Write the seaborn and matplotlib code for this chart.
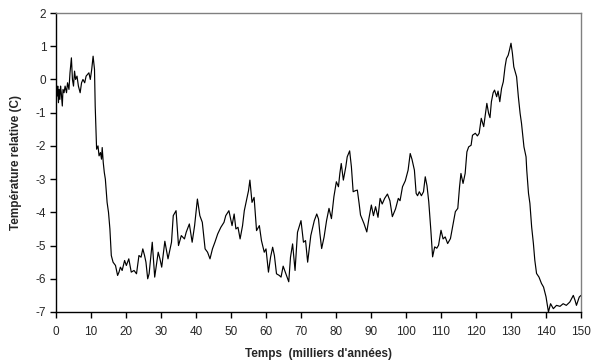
import matplotlib
matplotlib.use("Agg")
import matplotlib.pyplot as plt
import seaborn as sns
import pandas as pd

temps = [0.0, 0.3, 0.5, 0.7, 0.9, 1.1, 1.3, 1.5, 1.8, 2.0, 2.3, 2.6, 3.0, 3.3, 3.7, 4.0, 4.4, 4.7, 5.0, 5.3,
         5.6, 6.0, 6.4, 6.9, 7.3, 7.7, 8.2, 8.6, 9.0, 9.4, 9.8, 10.2, 10.6, 11.0, 11.2, 11.6, 12.0, 12.3, 12.7, 13.0,
         13.2, 13.5, 13.8, 14.1, 14.6, 15.0, 15.4, 15.8, 16.3, 17.0, 17.6, 18.0, 18.4, 18.9, 19.6, 20.1, 20.8, 21.5, 22.3, 23.0,
         23.7, 24.3, 24.8, 25.3, 25.7, 26.2, 26.6, 27.5, 28.2, 29.2, 29.7, 30.2, 31.1, 32.0, 33.0, 33.5, 34.3, 35.0, 35.8, 36.7,
         37.2, 38.1, 38.9, 39.6, 40.4, 41.1, 41.8, 42.6, 43.3, 44.0, 44.7, 45.4, 46.2, 47.1, 48.0, 48.5, 49.4, 50.3, 50.9, 51.4,
         52.0, 52.6, 53.3, 53.8, 54.5, 55.0, 55.4, 56.0, 56.6, 57.3, 58.1, 58.7, 59.5, 60.0, 60.7, 61.3, 61.9, 62.4, 63.0, 63.8,
         64.3, 64.9, 65.5, 66.5, 67.0, 67.6, 68.3, 69.0, 70.0, 70.7, 71.3, 71.9, 72.8, 73.8, 74.5, 75.0, 75.4, 75.9, 76.6, 77.3,
         78.0, 78.7, 79.4, 80.1, 80.7, 81.1, 81.5, 82.1, 82.8, 83.2, 83.9, 84.4, 84.9, 85.5, 86.1, 86.6, 87.0, 88.0, 88.8, 89.4,
         90.1, 90.7, 91.3, 92.0, 92.6, 93.2, 93.9, 94.7, 95.4, 96.1, 97.0, 97.8, 98.3, 99.0, 99.8, 100.6, 101.2, 101.7, 102.4, 102.9,
         103.3, 103.8, 104.4, 105.0, 105.5, 106.0, 106.5, 107.1, 107.6, 108.2, 108.8, 109.3, 110.0, 110.6, 111.2, 111.9, 112.7, 113.3, 114.1, 114.8,
         115.3, 115.7, 116.3, 116.9, 117.4, 117.9, 118.6, 119.0, 119.8, 120.4, 120.9, 121.5, 122.2, 122.6, 123.1, 123.6, 124.0, 124.4, 124.9, 125.3,
         125.9, 126.3, 126.8, 127.3, 127.8, 128.3, 128.7, 129.2, 129.6, 130.0, 130.4, 130.8, 131.2, 131.6, 132.1, 132.6, 133.0, 133.7, 134.3, 134.5,
         135.0, 135.4, 135.9, 136.4, 136.8, 137.3, 138.0, 138.7, 139.3, 140.0, 140.7, 141.3, 142.1, 143.0, 144.0, 144.9, 145.8, 146.8, 147.8, 148.3,
         148.7, 149.5, 150.0]

temperature = [-0.1, -0.5, -0.2, -0.7, -0.3, -0.6, -0.2, -0.4, -0.8, -0.3, -0.4, -0.2, -0.4, -0.1, -0.3, 0.2, 0.65, 0.0, -0.2, 0.25,
               0.0, 0.1, -0.2, -0.4, -0.1, 0.0, -0.1, 0.1, 0.15, 0.2, 0.0, 0.3, 0.7, 0.3, -0.8, -2.1, -2.0, -2.3, -2.2, -2.4,
               -2.05, -2.5, -2.8, -3.0, -3.7, -4.0, -4.5, -5.3, -5.5, -5.6, -5.9, -5.8, -5.65, -5.75, -5.45, -5.6, -5.4, -5.8, -5.75, -5.85,
               -5.3, -5.35, -5.1, -5.3, -5.5, -6.0, -5.85, -4.9, -5.95, -5.2, -5.4, -5.65, -4.87, -5.4, -4.9, -4.1, -3.95, -5.0, -4.7, -4.8,
               -4.6, -4.35, -4.9, -4.4, -3.6, -4.1, -4.3, -5.1, -5.2, -5.4, -5.1, -4.9, -4.65, -4.45, -4.3, -4.1, -3.95, -4.4, -4.05, -4.5,
               -4.45, -4.8, -4.4, -3.95, -3.6, -3.35, -3.03, -3.7, -3.55, -4.55, -4.4, -4.85, -5.2, -5.1, -5.8, -5.35, -5.05, -5.3, -5.85, -5.9,
               -5.95, -5.62, -5.8, -6.09, -5.35, -4.95, -5.75, -4.6, -4.25, -4.9, -4.85, -5.5, -4.7, -4.25, -4.05, -4.2, -4.64, -5.09, -4.74, -4.25,
               -3.88, -4.19, -3.53, -3.08, -3.23, -2.83, -2.53, -3.03, -2.63, -2.33, -2.15, -2.63, -3.38, -3.35, -3.33, -3.73, -4.08, -4.34, -4.59, -4.19,
               -3.78, -4.1, -3.83, -4.15, -3.58, -3.75, -3.58, -3.45, -3.65, -4.13, -3.9, -3.58, -3.65, -3.23, -3.05, -2.73, -2.23, -2.4, -2.73, -3.43,
               -3.5, -3.38, -3.5, -3.38, -2.93, -3.2, -3.68, -4.54, -5.34, -5.04, -5.08, -4.99, -4.54, -4.8, -4.74, -4.94, -4.79, -4.44, -3.98, -3.88,
               -3.23, -2.83, -3.13, -2.83, -2.18, -2.03, -1.98, -1.68, -1.62, -1.7, -1.62, -1.17, -1.42, -1.1, -0.72, -1.02, -1.15, -0.67, -0.4, -0.32,
               -0.52, -0.35, -0.67, -0.27, -0.07, 0.38, 0.63, 0.73, 0.9, 1.09, 0.79, 0.38, 0.23, 0.08, -0.52, -1.02, -1.32, -2.03, -2.33, -2.73,
               -3.43, -3.73, -4.44, -4.94, -5.44, -5.84, -5.95, -6.14, -6.25, -6.54, -7.0, -6.75, -6.9, -6.8, -6.83, -6.75, -6.8, -6.7, -6.5, -6.65,
               -6.8, -6.55, -6.5]

x_ticks = list(range(0, 151, 10))
y_ticks = list(range(-7, 3, 1))

sns.set_style("white")
plt.rcParams['font.family'] = ['Liberation Sans', 'DejaVu Sans']

df = pd.DataFrame({"t": temps, "v": temperature})

fig = plt.figure(figsize=(6.07, 3.61), dpi=100)
ax = fig.add_axes([56 / 607, 1 - 312 / 361, 525 / 607, 299 / 361])
sns.lineplot(data=df, x="t", y="v", ax=ax, color="black", linewidth=0.85, sort=False)

ax.set_xlim(0, 150)
ax.set_ylim(-7, 2)
ax.set_xticks(x_ticks)
ax.set_yticks(y_ticks)
ax.set_xticklabels([str(v) for v in x_ticks], fontsize=8.5)
ax.set_yticklabels([str(v) for v in y_ticks], fontsize=8.5)
ax.tick_params(axis="both", direction="out", length=4, width=1, color="black", pad=3,
               bottom=True, left=True)
ax.tick_params(axis="x", pad=6)

for s in ["left", "bottom"]:
    ax.spines[s].set_color("black")
    ax.spines[s].set_linewidth(1)
for s in ["top", "right"]:
    ax.spines[s].set_color("#808080")
    ax.spines[s].set_linewidth(1)

ax.set_xlabel("Temps  (milliers d'années)", fontsize=8.5, fontweight="bold", labelpad=7)
ax.set_ylabel("Température relative (C)", fontsize=8.5, fontweight="bold", labelpad=10)

fig.savefig("out.png", dpi=100)
